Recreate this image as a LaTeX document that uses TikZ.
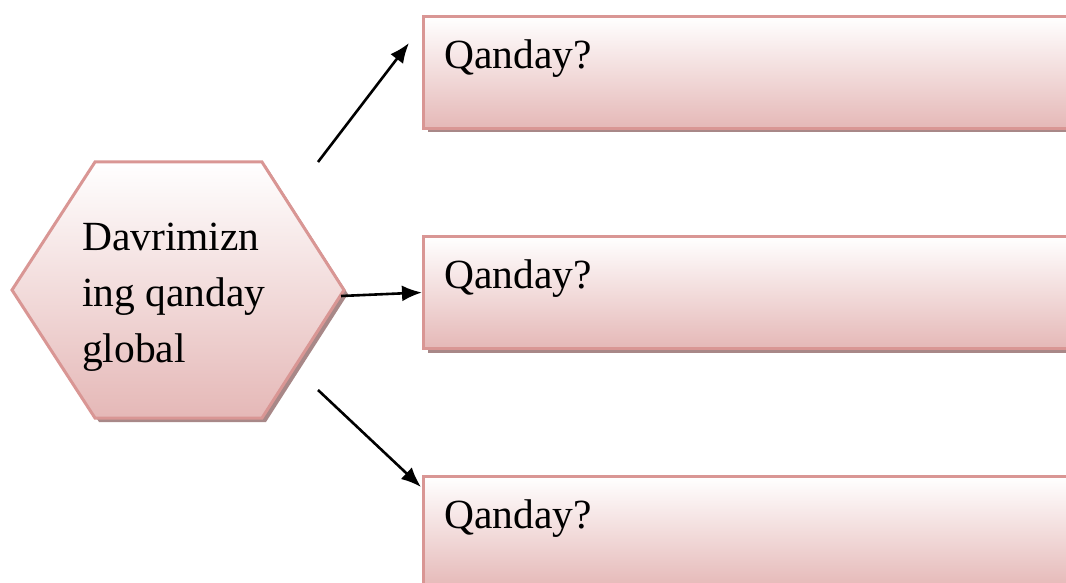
\documentclass[tikz,border=0pt]{standalone}
\usepackage{fontspec}
\setmainfont{Liberation Serif}
\usetikzlibrary{shadows, calc, arrows.meta}

\definecolor{pinkline}{RGB}{217,150,148}
\definecolor{pinkfill}{RGB}{229,184,183}
\definecolor{shadowc}{RGB}{168,136,136}

\tikzset{
	pinkshade/.style={draw=pinkline, line width=3pt, top color=white, bottom color=pinkfill,
		drop shadow={shadow xshift=4pt, shadow yshift=-4pt, fill=shadowc, opacity=1}},
	qbox/.style={pinkshade, rectangle, anchor=north west, inner xsep=21pt, inner ysep=0pt,
		text width=680pt, align=left, text height=52pt, text depth=60pt},
	bigtext/.style={font=\fontsize{41.5}{56}\selectfont},
	arr/.style={line width=2.6pt, -{Latex[length=20pt,width=16pt]}}
}

\begin{document}
\begin{tikzpicture}[x=1pt, y=-1pt, bigtext]
				\useasboundingbox (0,0) rectangle (1066,583);
				\clip (0,0) rectangle (1066,583);
				
				% Hexagon
				\path[pinkshade] (12,290) -- (95,162) -- (262,162) -- (344,290) -- (262,418) -- (95,418) -- cycle;
				\node[anchor=west, align=left, inner sep=0pt] (hex) at (82,297.5) {Davrimizn\\ing qanday\\global};
				
				% Boxes
				\node[qbox] (top) at (422,15) {Qanday?};
				\node[qbox] (mid) at (422,235) {Qanday?};
				\node[qbox] (bot) at (422,475) {Qanday?};
				
				% Arrows
				\coordinate (hexne) at (318,162);
				\coordinate (hexe) at (341,296);
				\coordinate (hexse) at (318,390);
				\draw[arr] (hexne) -- ($(top.north west)+(-13,28)$);
				\draw[arr] (hexe) -- (mid.west);
				\draw[arr] (hexse) -- ($(bot.north west)+(-1,12)$);
			\end{tikzpicture}
\end{document}
